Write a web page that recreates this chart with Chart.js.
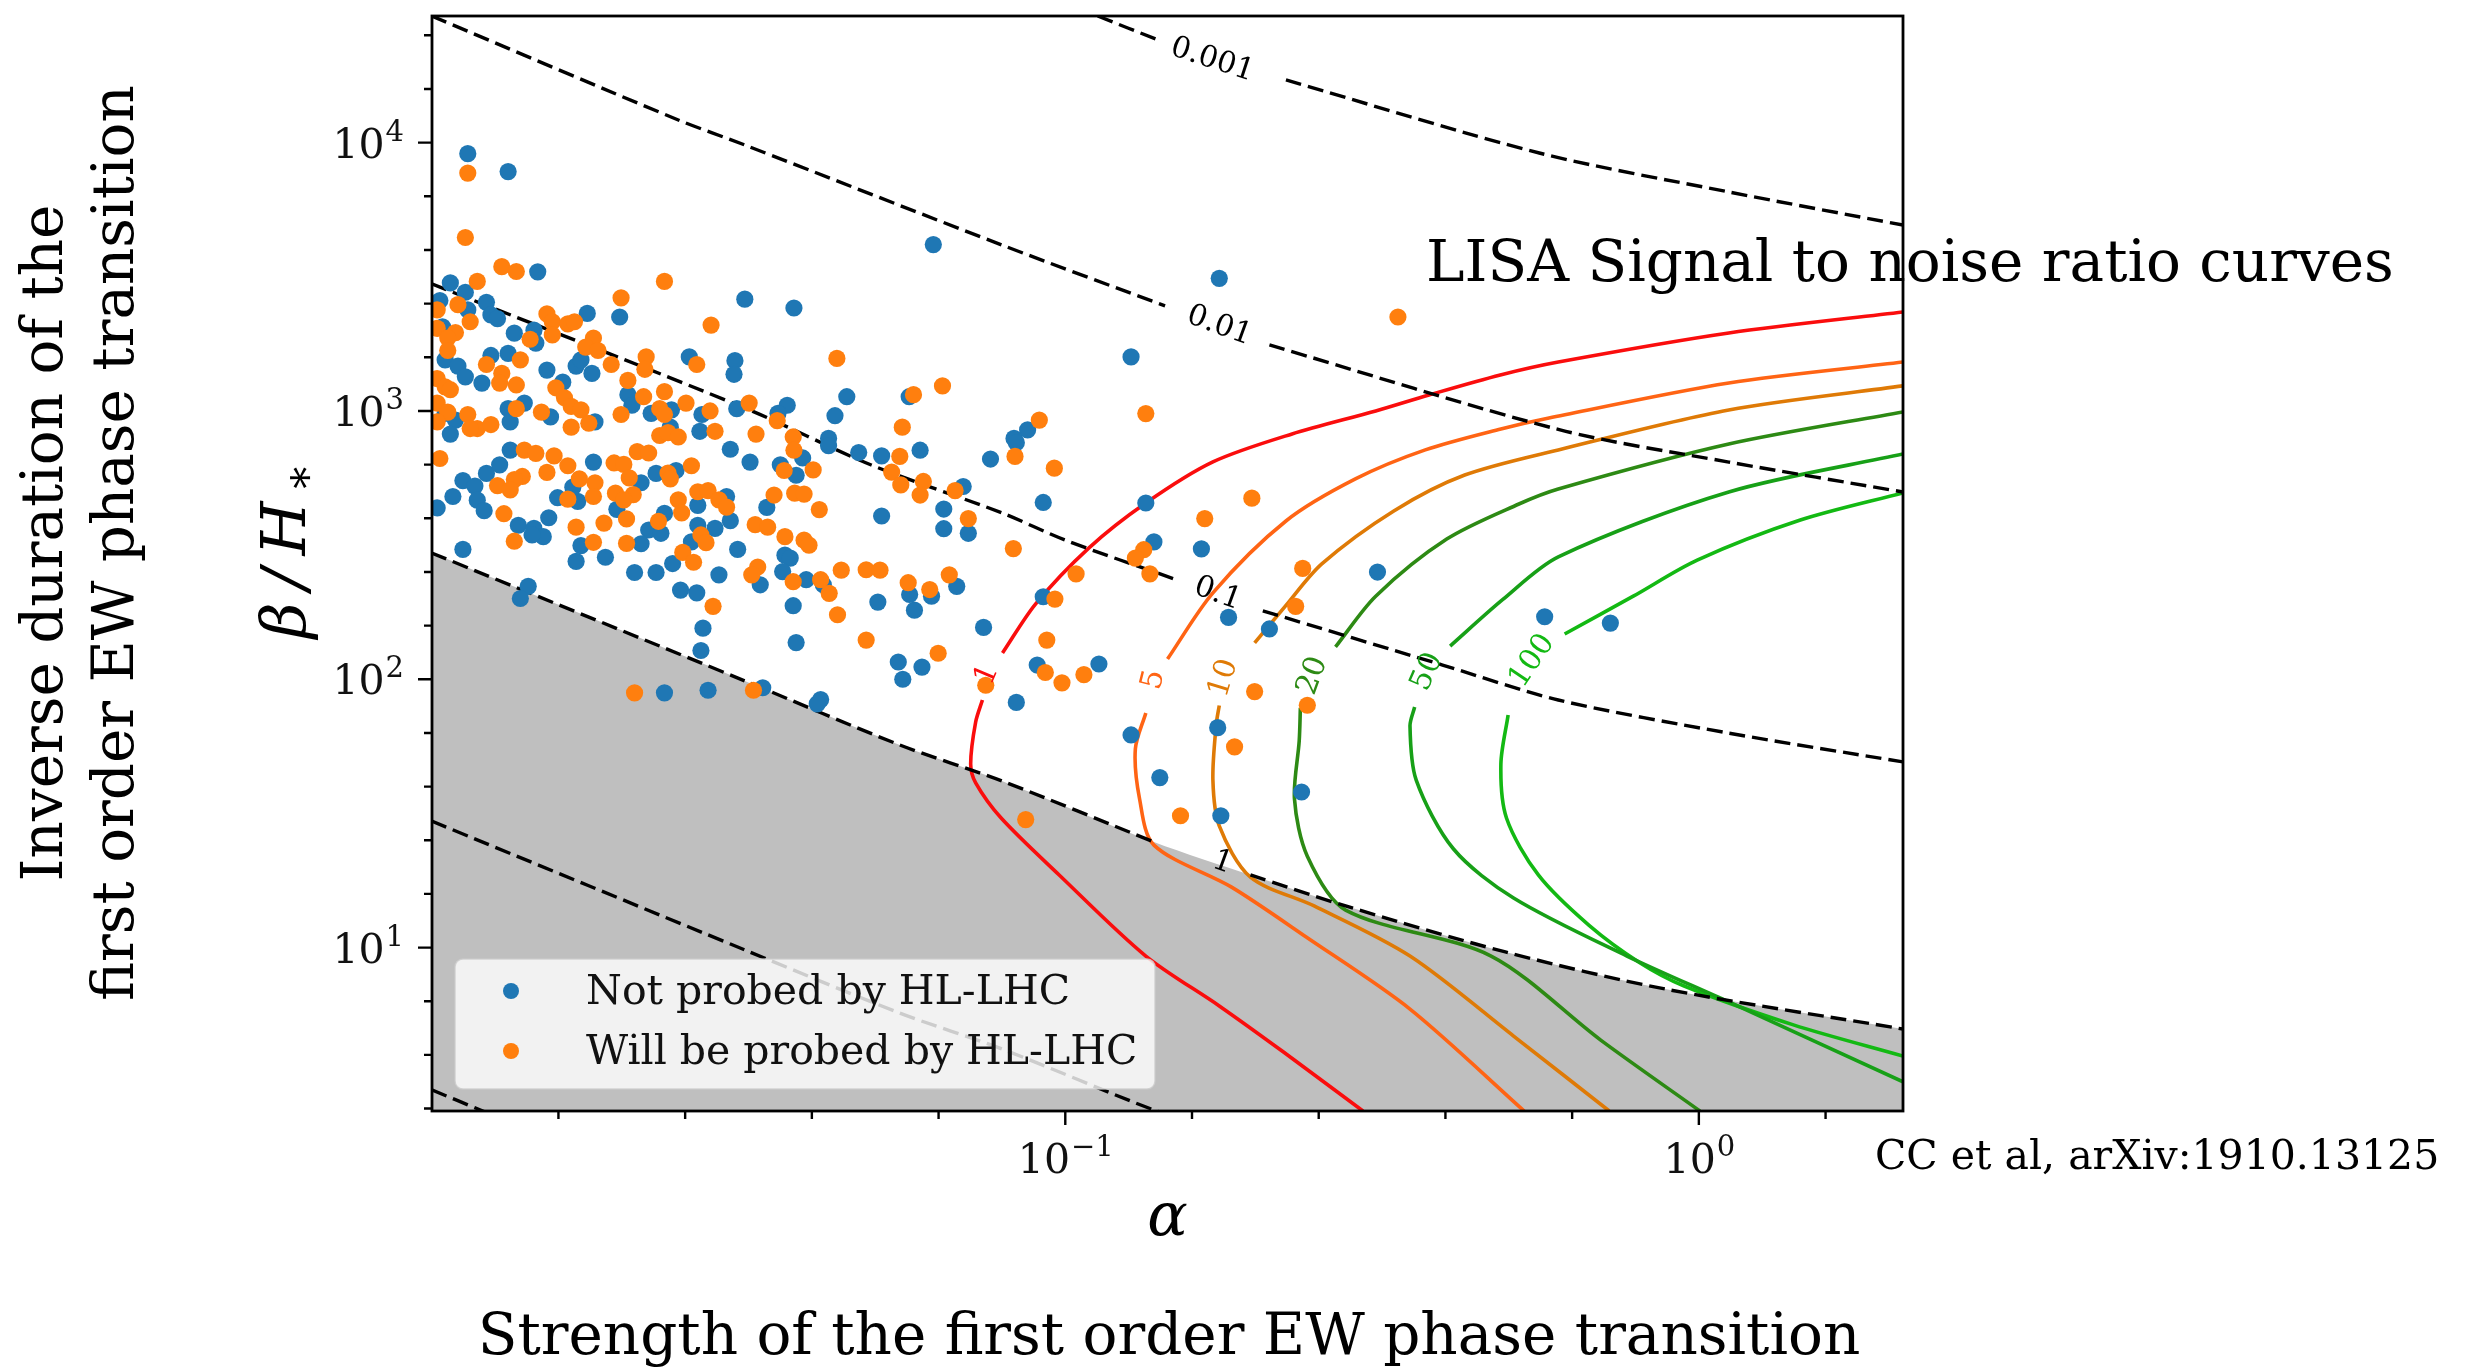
<!DOCTYPE html>
<html lang="en">
<head>
<meta charset="utf-8">
<title>LISA SNR vs HL-LHC</title>
<script src="https://cdn.jsdelivr.net/npm/chart.js@4.4.1/dist/chart.umd.min.js"></script>
<style>
  html, body { margin: 0; padding: 0; background: #ffffff; }
  .frame { position: relative; width: 2470px; height: 1367px; }
</style>
</head>
<body>
<div class="frame"><canvas id="ptChart"></canvas></div>
<script>

// benchmark points [alpha, beta/H*]
const notProbed = [
  [0.0114,9100],[0.0132,7800],[0.0147,3300],[0.0107,3000],[0.0113,2770],[0.0103,2580],[0.0122,2540],[0.0124,2280],
  [0.0127,2210],[0.0114,2380],[0.0176,2310],[0.0198,2240],[0.0135,1950],[0.0145,2000],[0.0146,1790],[0.0104,2060],
  [0.0132,1640],[0.0124,1610],[0.0105,1550],[0.0110,1470],[0.0113,1340],[0.0120,1270],[0.0152,1420],[0.0169,1470],
  [0.0172,1550],[0.0179,1380],[0.0161,1280],[0.0255,1590],[0.0301,1540],[0.0300,1370],[0.0312,2610],[0.0204,1150],
  [0.0207,1050],[0.0140,1070],[0.0132,1020],[0.0133,910],[0.0154,950],[0.0181,910],[0.0222,980],[0.0239,1010],
  [0.0238,870],[0.0267,970],[0.0265,840],[0.0303,1020],[0.0105,980],[0.0109,925],[0.0107,820],
  [0.0619,4170],[0.0373,2420],[0.0452,1130],[0.0433,960],[0.0364,1050],[0.0352,980],[0.0567,1130],[0.0872,850],
  [0.0830,790],[0.0423,790],
  [0.0296,720],[0.0180,645],[0.0226,585],[0.0243,600],[0.0214,540],[0.0112,550],[0.0117,525],[0.0122,585],
  [0.0128,630],[0.0133,715],[0.0108,480],[0.0118,465],[0.0121,425],[0.0102,435],[0.0158,475],[0.0170,460],
  [0.0167,520],[0.0196,430],[0.0233,415],[0.0263,445],[0.0292,480],[0.0296,390],[0.0280,365],[0.0263,375],
  [0.0220,360],[0.0230,350],[0.0137,375],[0.0145,365],[0.0150,340],[0.0144,345],[0.0153,400],[0.0172,315],
  [0.0214,320],[0.0257,325],[0.0112,305],[0.0169,275],[0.0188,285],[0.0209,250],[0.0226,250],[0.0240,270],
  [0.0284,245],[0.0304,305],[0.0247,215],[0.0262,210],[0.0268,155],[0.0266,128],[0.0142,222],[0.0138,200],
  [0.0233,89],[0.0273,91],
  [0.0318,645],[0.0423,742],[0.0472,700],[0.0513,680],[0.0590,714],[0.0837,762],[0.0762,662],[0.0385,668],
  [0.0355,630],[0.0376,576],[0.0338,437],[0.0513,406],[0.0643,431],[0.0643,364],[0.0703,350],[0.0690,523],
  [0.0923,456],[0.0361,290],[0.0368,283],[0.0358,252],[0.0330,225],[0.0390,235],[0.0415,225],[0.0506,194],
  [0.0568,207],[0.0578,181],[0.0615,204],[0.0674,222],[0.0372,188],[0.0743,156],[0.0376,137],[0.0545,116],
  [0.0554,100],[0.0594,111],[0.0903,113],[0.0923,203],[0.0837,82],[0.0333,93],[0.0411,84],[0.0406,81],
  [0.175,3120],[0.127,1590],[0.134,454],[0.138,325],[0.164,306],[0.311,251],[0.181,170],[0.210,154],
  [0.571,171],[0.113,114],[0.127,62],[0.174,66],[0.725,162],[0.141,43],[0.176,31],[0.236,38]
];

const probed = [
  [0.0114,7700],[0.0113,4430],[0.0129,3450],[0.0136,3310],[0.0118,3040],[0.0233,3040],[0.0110,2490],[0.0102,2380],
  [0.0115,2150],[0.0199,2640],[0.0276,2090],[0.0152,2300],[0.0155,2150],[0.0164,2110],[0.0168,2150],[0.0155,1920],
  [0.0143,1850],[0.0102,2030],[0.0109,1960],[0.0106,1870],[0.0106,1680],[0.0180,1870],[0.0175,1730],[0.0183,1680],
  [0.0138,1550],[0.0122,1490],[0.0129,1380],[0.0128,1270],[0.0136,1250],[0.0192,1490],[0.0218,1590],[0.0217,1430],
  [0.0262,1490],[0.0204,1300],[0.0157,1220],[0.0162,1120],[0.0166,1040],[0.0172,1010],[0.0216,1130],[0.0233,1180],
  [0.0252,1070],[0.0229,1020],[0.0233,970],[0.0275,1000],[0.0280,840],[0.0199,970],[0.0166,870],[0.0177,900],
  [0.0149,990],[0.0136,1020],[0.0114,970],[0.0102,1320],[0.0105,1230],[0.0107,1200],[0.0102,1070],[0.0106,990],
  [0.0102,910],[0.0118,860],[0.0124,890],[0.0115,860],[0.0229,810],[0.0236,830],[0.0245,800],
  [0.0436,1570],[0.0640,1240],[0.0576,1150],[0.0317,1070],[0.0351,920],[0.0553,870],[0.0910,925],[0.0325,820],
  [0.0372,800],
  [0.0103,665],[0.0140,715],[0.0146,695],[0.0156,680],[0.0164,625],[0.0152,590],[0.0139,570],[0.0135,555],
  [0.0127,527],[0.0133,508],[0.0171,558],[0.0181,540],[0.0180,480],[0.0164,469],[0.0194,640],[0.0201,632],
  [0.0205,563],[0.0211,705],[0.0220,697],[0.0236,587],[0.0238,558],[0.0257,625],[0.0195,494],[0.0208,488],
  [0.0201,466],[0.0130,414],[0.0169,369],[0.0187,382],[0.0203,396],[0.0228,388],[0.0245,466],[0.0248,417],
  [0.0263,500],[0.0273,505],[0.0284,466],[0.0292,438],[0.0266,345],[0.0271,323],[0.0135,327],[0.0180,324],
  [0.0203,321],[0.0249,297],[0.0259,273],[0.0278,187],[0.0209,89],
  [0.0373,714],[0.0400,603],[0.0360,600],[0.0548,677],[0.0532,592],[0.0550,530],[0.0597,546],[0.0590,486],
  [0.0670,505],[0.0833,677],[0.0961,612],[0.0347,486],[0.0374,494],[0.0387,490],[0.0409,429],[0.0324,377],
  [0.0339,369],[0.0361,340],[0.0387,330],[0.0394,316],[0.0703,397],[0.0828,307],[0.0327,262],[0.0320,245],
  [0.0372,231],[0.0411,235],[0.0424,209],[0.0443,255],[0.0485,256],[0.0510,255],[0.0565,229],[0.0611,216],
  [0.0656,245],[0.0437,174],[0.0485,140],[0.0630,125],[0.0935,140],[0.0930,106],[0.0749,95],[0.0988,97],
  [0.0322,91],[0.0963,199],
  [0.335,2240],[0.134,978],[0.197,473],[0.166,397],[0.133,304],[0.129,283],[0.136,247],[0.104,247],
  [0.237,259],[0.231,187],[0.107,104],[0.199,90],[0.241,80],[0.185,56],[0.152,31],[0.0866,30]
];

// dashed contours, null = break for the inline label
const dash0001 = [[0.1125,29650],[0.140,24150],null,[0.223,17130],[0.56,9150],[1.115,6550],[2.1,4930]];
const dash001 = [[0.01,29650],[0.0245,12150],[0.0312,9800],[0.0794,4155],[0.1437,2463],null,[0.21,1762],[0.604,850],[1.115,645],[2.1,499]];
const dash01 = [[0.01,2975],[0.0312,1026],[0.0494,629],[0.0794,417],[0.1,330],[0.149,236],null,[0.205,180],[0.394,113],[0.6,83.7],[1.115,63],[2.1,49.2]];
const dash1 = [[0.01,295.6],[0.0312,98.6],[0.0548,56.9],[0.0794,41.8],[0.138,24.75],null,[0.196,18.65],[0.277,14.3],[0.495,9.63],[0.884,7.01],[2.1,4.97]];
const dash10 = [[0.01,29.6],[0.0312,9.8],[0.0548,5.7],[0.0794,4.19],[0.138,2.48],[0.196,1.87]];
const dash100 = [[0.01,2.95],[0.01204,2.46],[0.0312,0.98]];
const dashLevels = ['0.001', '0.01', '0.1', '1'];
const dashLabelAt = [[0.1706,20300],[0.175,2074],[0.174,208],[0.177,20.7]];

// LISA signal-to-noise contours
const snr1 = [[0.295,2.46],[0.221,4.08],[0.175,6.06],[0.134,9.3],[0.0978,18.65],[0.0792,30.4],[0.0722,41.1],[0.0709,48.3],[0.0722,69.3],[0.074,83.7],null,
  [0.0796,125.3],[0.0898,191],[0.109,309],[0.134,454],[0.171,646],[0.228,821],[0.309,1000],[0.375,1147],[0.486,1362],[0.6,1522],[1.115,1953],[2.1,2339]];
const snr5 = [[0.53,2.46],[0.35,5.9],[0.24,10.95],[0.183,16.8],[0.138,24.1],[0.131,35.8],[0.129,55.0],[0.134,74.9],null,
  [0.145,119],[0.171,210],[0.223,389],[0.287,558],[0.37,716],[0.487,857],[0.58,942],[1.115,1272],[2.1,1522]];
const snr10 = [[0.722,2.46],[0.51,4.68],[0.35,9.3],[0.247,14.3],[0.196,18.3],[0.175,28.4],[0.171,42.1],[0.173,67.3],[0.175,79.9],null,
  [0.199,136.6],[0.222,186],[0.254,269],[0.33,424],[0.427,577],[0.6,716],[1.115,1009],[2.1,1240]];
const snr20 = [[1.004,2.46],[0.70,4.52],[0.47,9.3],[0.277,13.8],[0.241,21.9],[0.230,35.8],[0.234,58.9],[0.235,78.2],null,
  [0.267,132],[0.309,204],[0.40,333],[0.52,450],[0.6,512],[1.115,753],[2.1,992]];
const snr50 = [[2.1,3.16],[1.115,6.27],[0.77,9.3],[0.51,15.3],[0.41,23.3],[0.358,42.1],[0.35,67],[0.356,78.8],null,
  [0.405,133],[0.49,198],[0.6,286],[1.115,499],[2.1,691]];
const snr100 = [[2.1,3.94],[1.41,5.15],[0.948,7.19],[0.808,8.76],[0.671,12.1],[0.558,18.65],[0.497,30.4],[0.487,48.3],[0.50,73.6],null,
  [0.614,147.5],[0.788,204],[0.994,278],[1.446,392],[2.1,495]];
const snrLevels = ['1', '5', '10', '20', '50', '100'];
const snrLabelAt = [[0.0753,104],[0.138,99.4],[0.178,101],[0.246,103],[0.373,106.5],[0.546,117]];

const legendNames = ['Not probed by HL-LHC', 'Will be probed by HL-LHC'];

// ---- styling ----
const SERIF = '"DejaVu Serif", serif';
const BLUE = '#1f77b4', ORANGE = '#ff7f0e';
const snrColors = ['#fa0d0d', '#ff6414', '#df7a06', '#2d8a14', '#17a017', '#13b913'];
const snrAngles = [-67, -76, -73, -70, -66, -56];
const dashAngles = [18, 20, 20, 20];

const pts = arr => arr.map(p => p ? { x: p[0], y: p[1] } : { x: null, y: null });

// ticks every fifth of a decade, labels on the decades only
function logTicks(min, max) {
  const ticks = [];
  const k0 = Math.ceil(Math.log10(min) * 5 - 1e-9);
  const k1 = Math.floor(Math.log10(max) * 5 + 1e-9);
  for (let k = k0; k <= k1; k++) ticks.push({ value: Math.pow(10, k / 5) });
  return ticks;
}
const isDecade = v => Math.abs(Math.log10(v) - Math.round(Math.log10(v))) < 1e-6;

// "10" with a raised exponent, anchored by its base-line
function powerLabel(ctx, exp, x, baseY, align) {
  const e = exp < 0 ? '\u2212' + (-exp) : String(exp);
  ctx.font = '41px ' + SERIF;
  const wb = ctx.measureText('10').width;
  ctx.font = '29px ' + SERIF;
  const we = ctx.measureText(e).width;
  let left = x - wb - we;
  if (align === 'center') left = x - (wb + we) / 2;
  ctx.textAlign = 'left';
  ctx.textBaseline = 'alphabetic';
  ctx.font = '41px ' + SERIF;
  ctx.fillText('10', left, baseY);
  ctx.font = '29px ' + SERIF;
  ctx.fillText(e, left + wb + 1, baseY - 17);
}

function dashed(data) {
  return {
    type: 'line', data: pts(data), borderColor: '#000', borderWidth: 3.4, borderDash: [16, 7],
    pointRadius: 0, tension: 0.3, fill: false, spanGaps: false, order: 2
  };
}
function snrLine(data, i) {
  return {
    type: 'line', data: pts(data), borderColor: snrColors[i], borderWidth: 3.6,
    pointRadius: 0, tension: 0.3, fill: false, spanGaps: false, order: 3
  };
}

const overlay = {
  id: 'overlay',
  afterDatasetsDraw(chart) {
    const { ctx, chartArea: a, scales: { x, y } } = chart;
    ctx.save();
    ctx.beginPath();
    ctx.rect(a.left, a.top, a.right - a.left, a.bottom - a.top);
    ctx.clip();

    // inline contour labels
    ctx.font = '30px ' + SERIF;
    ctx.textAlign = 'center';
    ctx.textBaseline = 'middle';
    const put = (text, at, angle, color) => {
      ctx.save();
      ctx.translate(x.getPixelForValue(at[0]), y.getPixelForValue(at[1]));
      ctx.rotate(angle * Math.PI / 180);
      ctx.fillStyle = color;
      ctx.fillText(text, 0, 0);
      ctx.restore();
    };
    dashLevels.forEach((t, i) => put(t, dashLabelAt[i], dashAngles[i], '#000'));
    snrLevels.forEach((t, i) => put(t, snrLabelAt[i], snrAngles[i], snrColors[i]));

    // legend, lower left inside the axes
    const bx = a.left + 23, by = a.bottom - 152, bw = 700, bh = 130;
    ctx.beginPath();
    ctx.roundRect(bx, by, bw, bh, 8);
    ctx.fillStyle = 'rgba(255,255,255,0.8)';
    ctx.fill();
    ctx.strokeStyle = 'rgba(204,204,204,0.8)';
    ctx.lineWidth = 1.5;
    ctx.stroke();
    ctx.font = '41px ' + SERIF;
    ctx.textAlign = 'left';
    [BLUE, ORANGE].forEach((c, i) => {
      const cy = by + 32 + i * 60;
      ctx.beginPath();
      ctx.arc(bx + 56, cy, 8, 0, Math.PI * 2);
      ctx.fillStyle = c;
      ctx.fill();
      ctx.fillStyle = '#111';
      ctx.fillText(legendNames[i], bx + 131, cy + 2);
    });
    ctx.restore();
  },
  afterDraw(chart) {
    const { ctx, chartArea: a, scales: { x, y } } = chart;
    ctx.save();
    ctx.strokeStyle = '#000';
    ctx.lineWidth = 2.4;
    ctx.beginPath();
    x.ticks.forEach(t => {
      const px = x.getPixelForValue(t.value);
      ctx.moveTo(px, a.bottom);
      ctx.lineTo(px, a.bottom + (isDecade(t.value) ? 14 : 8));
    });
    y.ticks.forEach(t => {
      const py = y.getPixelForValue(t.value);
      ctx.moveTo(a.left, py);
      ctx.lineTo(a.left - (isDecade(t.value) ? 14 : 8), py);
    });
    ctx.stroke();
    ctx.lineWidth = 2.8;
    ctx.strokeRect(a.left, a.top, a.right - a.left, a.bottom - a.top);

    // decade labels
    ctx.fillStyle = '#111';
    x.ticks.filter(t => isDecade(t.value)).forEach(t => {
      powerLabel(ctx, Math.round(Math.log10(t.value)), x.getPixelForValue(t.value), a.bottom + 62, 'center');
    });
    y.ticks.filter(t => isDecade(t.value)).forEach(t => {
      powerLabel(ctx, Math.round(Math.log10(t.value)), a.left - 29, y.getPixelForValue(t.value) + 15, 'right');
    });

    ctx.fillStyle = '#000';
    ctx.textBaseline = 'middle';

    // axis symbols
    ctx.textAlign = 'center';
    ctx.font = 'italic 60px ' + SERIF;
    ctx.fillText('\u03B1', (a.left + a.right) / 2, a.bottom + 108);

    ctx.save();
    ctx.translate(289, 542);
    ctx.rotate(-Math.PI / 2);
    ctx.letterSpacing = '13px';
    ctx.font = 'italic 62px ' + SERIF;
    const main = '\u03B2/H';
    const wMain = ctx.measureText(main).width;
    ctx.font = 'italic 44px ' + SERIF;
    const wSub = ctx.measureText('\u2217').width;
    ctx.textAlign = 'left';
    ctx.font = 'italic 62px ' + SERIF;
    ctx.fillText(main, -(wMain + wSub) / 2, 0);
    ctx.font = 'italic 44px ' + SERIF;
    ctx.fillText('\u2217', -(wMain + wSub) / 2 + wMain - 4, 14);
    ctx.restore();

    // slide captions
    ctx.font = '58px ' + SERIF;
    ctx.textAlign = 'center';
    ctx.fillText('Strength of the first order EW phase transition', 1169, 1339);
    ctx.save();
    ctx.translate(47, 543);
    ctx.rotate(-Math.PI / 2);
    ctx.fillText('Inverse duration of the', 0, 0);
    ctx.translate(0, 71);
    ctx.fillText('first order EW phase transition', 0, 0);
    ctx.restore();

    ctx.textAlign = 'left';
    ctx.fillText('LISA Signal to noise ratio curves', 1426, 266);
    ctx.font = '41px ' + SERIF;
    ctx.fillText('CC et al, arXiv:1910.13125', 1875, 1158);
    ctx.restore();
  }
};

// fixed axes box: no extra room reserved for tick labels
function pinX(s) { s.height = 256; s.paddingLeft = 0; s.paddingRight = 0; s.paddingTop = 0; s.paddingBottom = 0; }
function pinY(s) { s.width = 432; s.paddingLeft = 0; s.paddingRight = 0; s.paddingTop = 0; s.paddingBottom = 0; }

const ctx = document.getElementById('ptChart');

new Chart(ctx, {
  type: 'scatter',
  data: {
    datasets: [
      { type: 'scatter', label: legendNames[1], data: pts(probed), backgroundColor: ORANGE, borderWidth: 0, pointRadius: 8.6, order: 0 },
      { type: 'scatter', label: legendNames[0], data: pts(notProbed), backgroundColor: BLUE, borderWidth: 0, pointRadius: 8.6, order: 1 },
      dashed(dash0001), dashed(dash001), dashed(dash01), dashed(dash1), dashed(dash10), dashed(dash100),
      snrLine(snr1, 0), snrLine(snr5, 1), snrLine(snr10, 2), snrLine(snr20, 3), snrLine(snr50, 4), snrLine(snr100, 5),
      // shaded region under the tau = 1 line
      { type: 'line', data: pts(dash1.filter(Boolean)), borderWidth: 0, pointRadius: 0, tension: 0.3,
        fill: 'start', backgroundColor: '#bfbfbf', order: 9 }
    ]
  },
  options: {
    responsive: true,
    maintainAspectRatio: false,
    animation: false,
    devicePixelRatio: 1,
    layout: { padding: { left: 0, right: 567, top: 16, bottom: 0 } },
    plugins: {
      legend: { display: false },
      tooltip: { enabled: false },
      filler: { drawTime: 'beforeDatasetsDraw' }
    },
    scales: {
      x: {
        type: 'logarithmic', min: 0.01001, max: 2.1,
        afterBuildTicks: s => { s.ticks = logTicks(s.min, s.max); },
        afterFit: pinX,
        grid: { display: false, drawTicks: false },
        border: { display: false },
        ticks: { display: false, autoSkip: false }
      },
      y: {
        type: 'logarithmic', min: 2.46, max: 29650,
        afterBuildTicks: s => { s.ticks = logTicks(s.min, s.max); },
        afterFit: pinY,
        grid: { display: false, drawTicks: false },
        border: { display: false },
        ticks: { display: false, autoSkip: false }
      }
    }
  },
  plugins: [overlay]
});
</script>
</body>
</html>
